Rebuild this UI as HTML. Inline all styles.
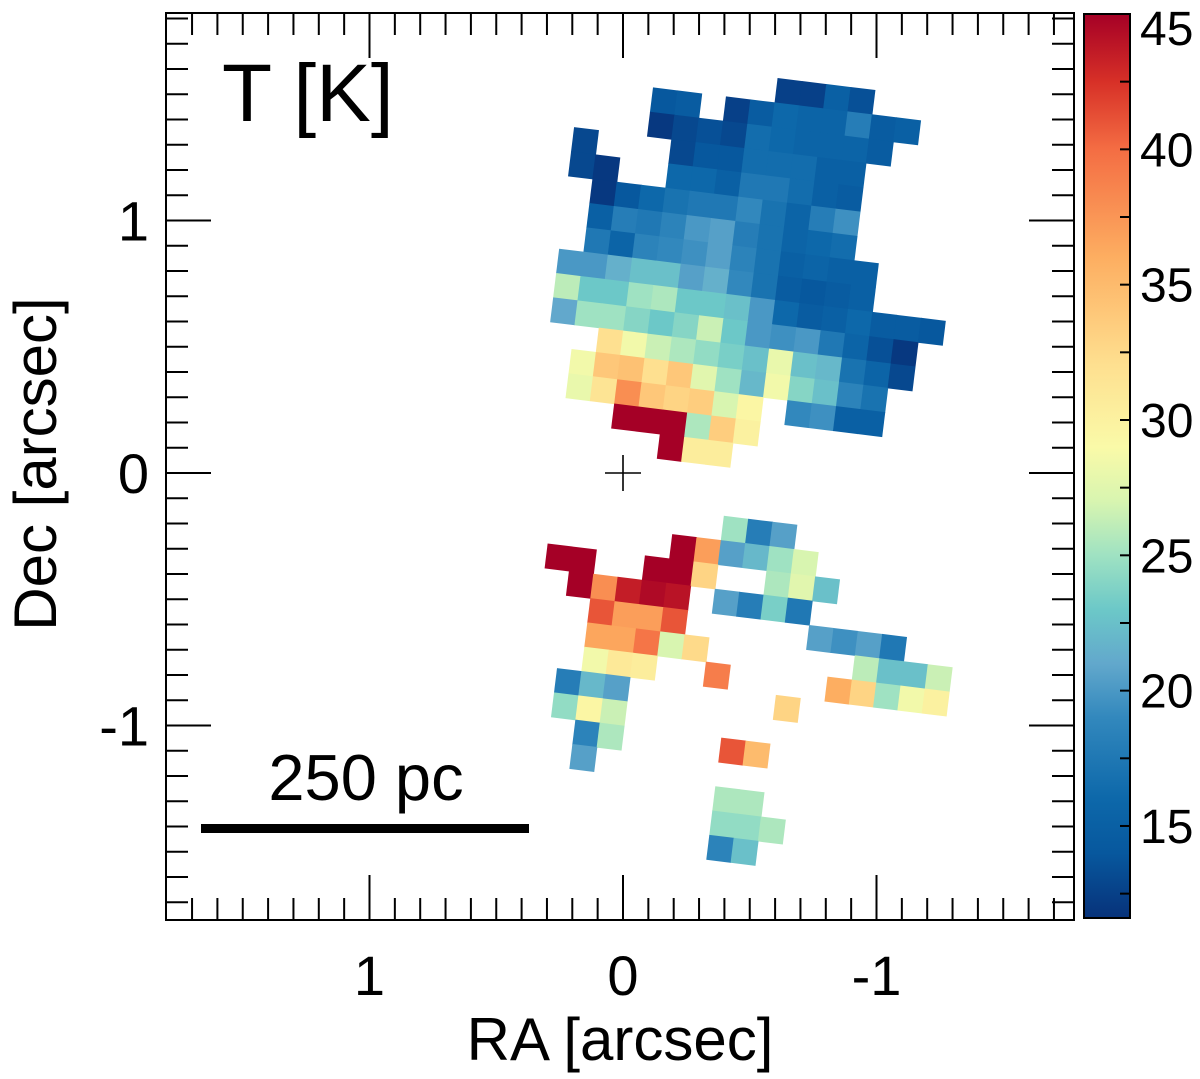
<!DOCTYPE html>
<html><head><meta charset="utf-8"><style>
html,body{margin:0;padding:0;background:#fff;}
svg{display:block;font-family:"Liberation Sans",Arial,sans-serif;}
</style></head><body>
<svg id="chart" width="1200" height="1079" viewBox="0 0 1200 1079" xmlns="http://www.w3.org/2000/svg">
<defs><linearGradient id="cbgrad" x1="0" y1="1" x2="0" y2="0"></linearGradient></defs>
<g id="cells"></g>
<g id="axes"></g>
<text x="222" y="121" font-size="82">T [K]</text>
<rect x="201" y="824" width="328" height="9" fill="#000"/>
<text x="366" y="800" font-size="65" text-anchor="middle">250 pc</text>
<g stroke="#000" stroke-width="1.6">
<line x1="605" y1="473" x2="641" y2="473"/><line x1="623" y1="455" x2="623" y2="491"/></g>
<text x="620" y="1060" font-size="60" text-anchor="middle">RA [arcsec]</text>
<text transform="translate(56,464) rotate(-90)" font-size="60" text-anchor="middle">Dec [arcsec]</text>
<g id="colorbar"></g>
</svg>
<script>
// ---- data ----
const rowJ = [-15,-14,-13,-12,-11,-10,-9,-8,-7,-6,-5,-4,-3,-2,-1,0,3,4,5,6,7,8,9,10,11,12,13,14,15,16];
const rowStart = [3,-2,-2,-5,-5,-4,-4,-4,-5,-5,-5,-3,-4,-4,-2,0,3,1,-4,-3,-2,-2,-2,-3,-3,-2,-2,4,4,4];
const rowTemps = [
 [12.5,12.5,15,13.5],
 [14,14.5,null,12.5,14.5,16,15.5,15.5,18,14.5,15],
 [12,13,13.5,13,16.5,16,15.5,15.5,15.5,14.5],
 [13,null,null,null,13,14,14,16.5,16.5,16.5,15,15],
 [13,12,null,null,16,16,15,17.5,17.5,16.5,15,14.5],
 [12,14,16,17,17.5,17.5,19,17,15.5,18,19.5],
 [15,18,17.5,18.5,20,20.5,18,17,15.5,16,16.5],
 [17.5,15.5,18.5,19,19.5,20.5,18.5,17,15,15.5,15,15],
 [20,20,21.5,22.5,22.5,20.5,21.5,19,17,14.5,14,14.5,15],
 [26,23,23,25,25.5,23,23,22.5,20,16,14.5,15,16,14.5,14.5,14],
 [21,25,25,24,23,24,26.5,23,20,19.5,20,17.5,15.5,13.5,12],
 [32,28.5,26.5,25.5,24.5,23.5,22.5,28,22.5,22,17,15.5,13],
 [28.5,34,34.5,32,34,27.5,25,22,28.5,24,22.5,18.5,17],
 [28,31.5,38,34,33,33.5,27,29.5,null,19,19.5,15,15],
 [45,45,45,25.5,33.5,30],
 [45,30.5,30.5],
 [25,18,20.5],
 [45,37,20.5,22,25,27],
 [45,45,null,null,45,45,33,null,null,25.5,27.5,22.5],
 [45,38,43.5,44.5,44,null,20.5,18,23.5,17.5],
 [41,37,37,41,null,null,null,null,null,20.5,19.5,20.5,17.5],
 [36.5,36.5,39.5,27,32.5,null,null,null,null,null,null,26,22.5,22.5,26.5],
 [28.5,31,30.5,null,null,39,null,null,null,null,36,33,25,28.5,30],
 [18,22,20.5,null,null,null,null,null,null,33],
 [24.5,29.5,26.5],
 [18.5,25.5,null,null,null,null,41,35],
 [20.5],
 [25.5,25.5],
 [24.5,24.5,25.5],
 [18.5,22.5]
];
const xTickValues = [1,0,-1];
const xTickLabels = ["1","0","-1"];
const yTickValues = [1,0,-1];
const yTickLabels = ["1","0","-1"];
const cbTickValues = [45,40,35,30,25,20,15];
const cbTickLabels = ["45","40","35","30","25","20","15"];
const cmapVals = [11.6,14,16,19,21,23,25,27,29,32,36,40,42.5,45];
const cmapCols = ["#07327a","#07589e","#0d68aa","#3288bd","#62a8cc","#6cc8c8","#9fe2c2","#d8f5b0","#fafaa8","#fee090","#fdae61","#f46d43","#d73027","#a50026"];

// ---- scales ----
const NS="http://www.w3.org/2000/svg";
const PX={l:166,r:1074,t:13,b:920};
function xScale(ra){return 623-253.5*ra;}
function yScale(dec){return 473-252.5*dec;}
const CELL=24.5, ROT=7, CELL_RA=-CELL/253.5, CELL_DEC=-CELL/252.5;
const ORIGIN_RA=(623-670.5)/253.5, ORIGIN_DEC=(473-447.5)/252.5;
const VMIN=11.6, VMAX=45;
function cbY(v){return 14+(VMAX-v)*((918-14)/(VMAX-VMIN));}
function hex2rgb(h){return [1,3,5].map(k=>parseInt(h.substr(k,2),16));}
function cmap(v){
  v=Math.max(cmapVals[0],Math.min(cmapVals[cmapVals.length-1],v));
  for(let k=0;k<cmapVals.length-1;k++){
    if(v<=cmapVals[k+1]){const t=(v-cmapVals[k])/(cmapVals[k+1]-cmapVals[k]);
      const a=hex2rgb(cmapCols[k]),b=hex2rgb(cmapCols[k+1]);
      return "rgb("+a.map((c,n)=>Math.round(c+(b[n]-c)*t)).join(",")+")";}
  }
  return cmapCols[cmapCols.length-1];
}
function mk(tag,attrs,parent){const e=document.createElementNS(NS,tag);for(const k in attrs)e.setAttribute(k,attrs[k]);parent.appendChild(e);return e;}

// ---- cells ----
const cellsG=document.getElementById('cells');
const gx=xScale(ORIGIN_RA), gy=yScale(ORIGIN_DEC);
const grid=mk('g',{transform:"translate("+gx+","+gy+") rotate("+ROT+")"},cellsG);
rowJ.forEach((j,r)=>{
  rowTemps[r].forEach((T,k)=>{
    if(T===null)return;
    const i=rowStart[r]+k;
    const lx=xScale(i*CELL_RA)-xScale(0), ly=yScale(j*CELL_DEC)-yScale(0);
    const rc=mk('rect',{x:(lx-CELL/2).toFixed(2),y:(ly-CELL/2).toFixed(2),width:CELL+0.6,height:CELL+0.6,fill:cmap(T)},grid);
    
    
  });
});

// ---- axes ----
const ax=document.getElementById('axes');
const frame=mk('rect',{x:PX.l,y:PX.t,width:PX.r-PX.l,height:PX.b-PX.t,fill:"none",stroke:"#000","stroke-width":2},ax);


const tg=mk('g',{stroke:"#000","stroke-width":2},ax);
for(let k=-20;k<=20;k++){
  const x=xScale(k/10); if(x<PX.l+1||x>PX.r-1)continue;
  const L=(k%10===0)?45:22;
  mk('line',{x1:x,y1:PX.b,x2:x,y2:PX.b-L},tg);
  mk('line',{x1:x,y1:PX.t,x2:x,y2:PX.t+L},tg);
}
for(let k=-20;k<=20;k++){
  const y=yScale(k/10); if(y<PX.t+1||y>PX.b-1)continue;
  const L=(k%10===0)?45:22;
  mk('line',{x1:PX.l,y1:y,x2:PX.l+L,y2:y},tg);
  mk('line',{x1:PX.r,y1:y,x2:PX.r-L,y2:y},tg);
}
xTickValues.forEach((v,n)=>{
  const t=mk('text',{x:xScale(v),y:995,"font-size":56,"text-anchor":"middle"},ax);
  t.textContent=xTickLabels[n];
  
  
});
yTickValues.forEach((v,n)=>{
  const t=mk('text',{x:149,y:yScale(v)+20,"font-size":56,"text-anchor":"end"},ax);
  t.textContent=yTickLabels[n];
  
  
});

// ---- colorbar ----
const grad=document.getElementById('cbgrad');
cmapVals.forEach((v,n)=>{mk('stop',{offset:((v-VMIN)/(VMAX-VMIN)).toFixed(4),"stop-color":cmapCols[n]},grad);});
const cb=document.getElementById('colorbar');
const bar=mk('rect',{x:1084,y:cbY(VMAX),width:46,height:cbY(VMIN)-cbY(VMAX),fill:"url(#cbgrad)",stroke:"#000","stroke-width":2},cb);


for(let v=12.5;v<45;v+=2.5){
  const y=cbY(v);
  mk('line',{x1:1120,y1:y,x2:1130,y2:y,stroke:"#000","stroke-width":2},cb);
}
cbTickValues.forEach((v,n)=>{
  const y=cbY(v);
  const t=mk('text',{x:1140,y:Math.max(y+17,45),"font-size":48},cb);
  t.textContent=cbTickLabels[n];
  
  
});
</script>
</body></html>
